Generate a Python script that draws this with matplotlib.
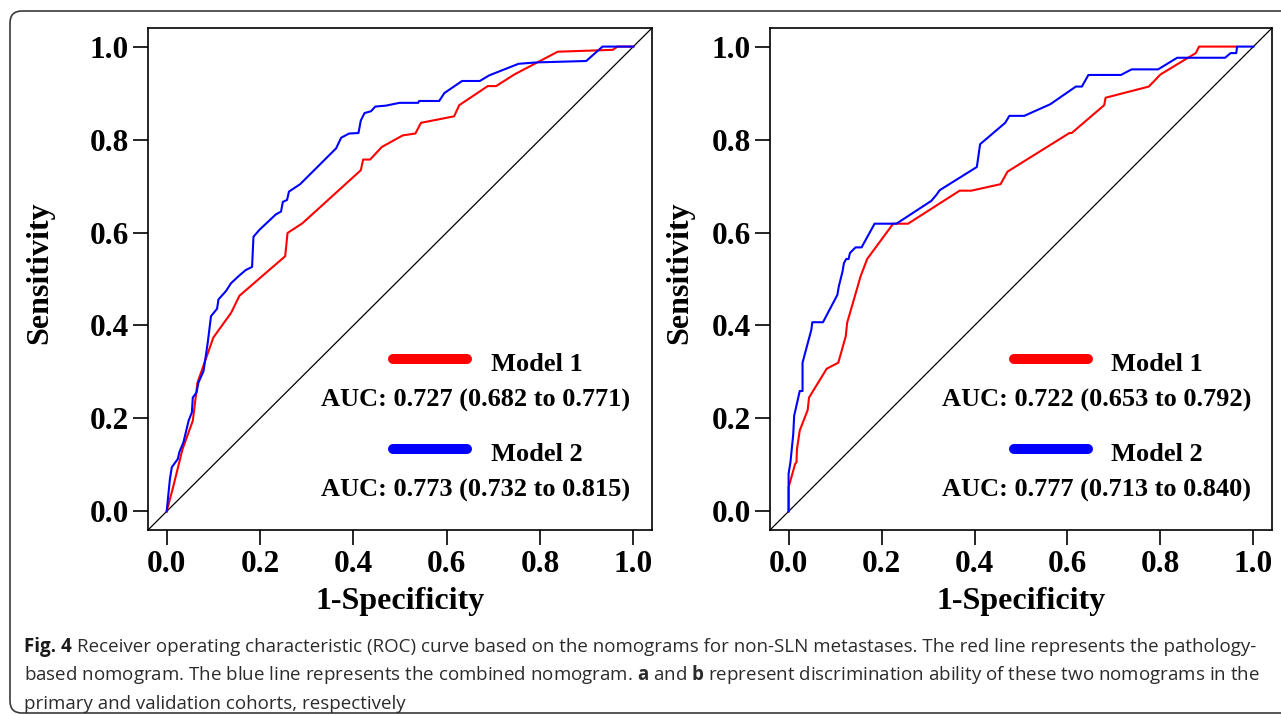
import matplotlib
matplotlib.use('Agg')
import matplotlib.pyplot as plt
from matplotlib import font_manager
from matplotlib.patches import FancyBboxPatch
import numpy as np

# panel a (primary cohort)
a_fpr_m1 = [0.0, 0.013, 0.034, 0.056, 0.066, 0.1, 0.12, 0.138, 0.156, 0.254, 0.259, 0.291,
            0.416, 0.421, 0.436, 0.461, 0.506, 0.533, 0.545, 0.616, 0.627, 0.688, 0.706,
            0.745, 0.838, 0.956, 0.966, 1.0]
a_tpr_m1 = [0.0, 0.049, 0.134, 0.195, 0.277, 0.374, 0.402, 0.427, 0.464, 0.549, 0.599, 0.62,
            0.734, 0.757, 0.757, 0.784, 0.809, 0.813, 0.836, 0.85, 0.874, 0.915, 0.915,
            0.94, 0.989, 0.993, 1.0, 1.0]
a_fpr_m2 = [0.0, 0.007, 0.011, 0.024, 0.027, 0.036, 0.047, 0.054, 0.056, 0.064, 0.068, 0.079,
            0.088, 0.095, 0.108, 0.111, 0.127, 0.138, 0.154, 0.169, 0.183, 0.186, 0.199,
            0.234, 0.245, 0.249, 0.258, 0.262, 0.286, 0.363, 0.374, 0.391, 0.411, 0.416,
            0.424, 0.438, 0.447, 0.47, 0.499, 0.539, 0.541, 0.584, 0.595, 0.633, 0.671,
            0.691, 0.754, 0.793, 0.899, 0.934, 1.0]
a_tpr_m2 = [0.0, 0.07, 0.095, 0.113, 0.127, 0.149, 0.195, 0.213, 0.245, 0.256, 0.277, 0.302,
            0.363, 0.42, 0.436, 0.456, 0.474, 0.491, 0.506, 0.519, 0.526, 0.591, 0.606,
            0.639, 0.645, 0.666, 0.67, 0.688, 0.704, 0.781, 0.804, 0.813, 0.814, 0.841,
            0.857, 0.861, 0.871, 0.873, 0.879, 0.879, 0.883, 0.883, 0.9, 0.926, 0.926,
            0.938, 0.963, 0.966, 0.969, 1.0, 1.0]

# panel b (validation cohort)
b_fpr_m1 = [0.0, 0.0, 0.014, 0.017, 0.018, 0.024, 0.041, 0.044, 0.082, 0.107, 0.123, 0.126,
            0.155, 0.169, 0.225, 0.257, 0.368, 0.393, 0.456, 0.471, 0.604, 0.609, 0.679,
            0.682, 0.775, 0.8, 0.876, 0.883, 0.963]
b_tpr_m1 = [0.0, 0.052, 0.102, 0.106, 0.134, 0.174, 0.218, 0.245, 0.307, 0.32, 0.377, 0.406,
            0.506, 0.543, 0.619, 0.619, 0.69, 0.69, 0.704, 0.731, 0.814, 0.814, 0.874,
            0.89, 0.914, 0.94, 0.986, 1.0, 1.0]
b_fpr_m2 = [0.0, 0.0, 0.004, 0.01, 0.012, 0.024, 0.03, 0.03, 0.049, 0.051, 0.074, 0.105,
            0.108, 0.116, 0.119, 0.124, 0.129, 0.132, 0.144, 0.157, 0.185, 0.232, 0.307,
            0.318, 0.325, 0.405, 0.412, 0.466, 0.475, 0.507, 0.563, 0.618, 0.631, 0.645,
            0.715, 0.738, 0.795, 0.836, 0.939, 0.951, 0.963, 0.965, 1.0]
b_tpr_m2 = [0.0, 0.081, 0.106, 0.166, 0.206, 0.259, 0.259, 0.32, 0.391, 0.407, 0.407, 0.466,
            0.484, 0.516, 0.534, 0.543, 0.543, 0.556, 0.568, 0.568, 0.619, 0.619, 0.668,
            0.681, 0.691, 0.741, 0.79, 0.836, 0.851, 0.851, 0.876, 0.914, 0.914, 0.939,
            0.939, 0.951, 0.951, 0.976, 0.976, 0.986, 0.986, 1.0, 1.0]

model_names = ['Model 1', 'Model 2']
a_auc = ['AUC: 0.727 (0.682 to 0.771)', 'AUC: 0.773 (0.732 to 0.815)']
b_auc = ['AUC: 0.722 (0.653 to 0.792)', 'AUC: 0.777 (0.713 to 0.840)']
ticks = [0.0, 0.2, 0.4, 0.6, 0.8, 1.0]
tick_labels = ['0.0', '0.2', '0.4', '0.6', '0.8', '1.0']

fig_tag = 'Fig. 4'
caption = [
    'Receiver operating characteristic (ROC) curve based on the nomograms for non-SLN metastases. The red line represents the pathology-',
    r'based nomogram. The blue line represents the combined nomogram. $\mathbf{a}$ and $\mathbf{b}$ represent discrimination ability of these two nomograms in the',
    'primary and validation cohorts, respectively',
]

installed = {f.name for f in font_manager.fontManager.ttflist}
cap_font = 'Open Sans' if 'Open Sans' in installed else 'DejaVu Sans'
serif = 'Liberation Serif'

plt.rcParams['mathtext.fontset'] = 'custom'
plt.rcParams['mathtext.rm'] = cap_font
plt.rcParams['mathtext.bf'] = cap_font + ':bold'

W, H = 1281, 715
fig = plt.figure(figsize=(W / 100, H / 100), dpi=100)

border = FancyBboxPatch((0.10, 0.02), 13.5, 7.02, boxstyle='round,pad=0,rounding_size=0.12',
                        transform=fig.dpi_scale_trans, fill=False, edgecolor='#3a3a3a', lw=1.2)
fig.add_artist(border)

RED = '#ff0000'
BLUE = '#0000ff'


def draw_panel(rect, m1, m2, aucs, ylab_x):
    ax = fig.add_axes(rect)
    ax.set_xlim(-0.04, 1.04)
    ax.set_ylim(-0.04, 1.04)
    ax.axline((0, 0), slope=1, color='black', lw=0.9)
    ax.plot(m1[0], m1[1], color=RED, lw=1.5)
    ax.plot(m2[0], m2[1], color=BLUE, lw=1.5)

    ax.set_xticks(ticks, labels=tick_labels, fontsize=22.5, fontweight='bold', family=serif)
    ax.set_yticks(ticks, labels=tick_labels, fontsize=22.5, fontweight='bold', family=serif)
    ax.tick_params(axis='x', direction='out', length=10.5, width=1.2, pad=4)
    ax.tick_params(axis='y', direction='out', length=10.5, width=1.2, pad=3)
    for sp in ax.spines.values():
        sp.set_linewidth(1.2)

    ax.text(ylab_x, 0.513, 'Sensitivity', transform=ax.transAxes, rotation=90,
            ha='center', va='center', fontsize=23, fontweight='bold', family=serif)
    ax.text(0.5, -0.143, '1-Specificity', transform=ax.transAxes,
            ha='center', va='center', fontsize=23, fontweight='bold', family=serif)

    # legend block
    for col, name, auc, y_line, y_name, y_auc in [
            (RED, model_names[0], aucs[0], 0.340, 0.317, 0.2456),
            (BLUE, model_names[1], aucs[1], 0.1614, 0.138, 0.0664)]:
        ax.plot([0.486, 0.633], [y_line, y_line], transform=ax.transAxes, color=col,
                lw=7.2, solid_capstyle='round')
        ax.text(0.680, y_name, name, transform=ax.transAxes, ha='left', va='baseline',
                fontsize=19, fontweight='bold', family=serif)
        ax.text(0.650, y_auc, auc, transform=ax.transAxes, ha='center', va='baseline',
                fontsize=19, fontweight='bold', family=serif)
    return ax


draw_panel([148 / W, 1 - 530 / H, 504 / W, 502 / H], (a_fpr_m1, a_tpr_m1),
           (a_fpr_m2, a_tpr_m2), a_auc, -0.214)
draw_panel([770 / W, 1 - 530 / H, 502 / W, 502 / H], (b_fpr_m1, b_tpr_m1),
           (b_fpr_m2, b_tpr_m2), b_auc, -0.179)

# caption, sized so the first line spans the same width as the reference
renderer = fig.canvas.get_renderer()
probe = fig.text(0, 0, fig_tag + ' ' + caption[0], fontsize=15, family=cap_font)
width = probe.get_window_extent(renderer).width
probe.remove()
cap_size = 15 * 1232 / width

x0 = 24
tag = fig.text(x0 / W, 1 - 652 / H, fig_tag, fontsize=cap_size, family=cap_font,
               fontweight='bold', color='#1a1a1a', ha='left', va='baseline')
tag_w = tag.get_window_extent(renderer).width
space = 0.26 * cap_size * 100 / 72

for i, line in enumerate(caption):
    x = x0 + tag_w + space if i == 0 else x0
    fig.text(x / W, 1 - (652 + i * 28.5) / H, line, fontsize=cap_size, family=cap_font,
             color='#2b2b2b', ha='left', va='baseline')

fig.savefig('out.png', dpi=100)
